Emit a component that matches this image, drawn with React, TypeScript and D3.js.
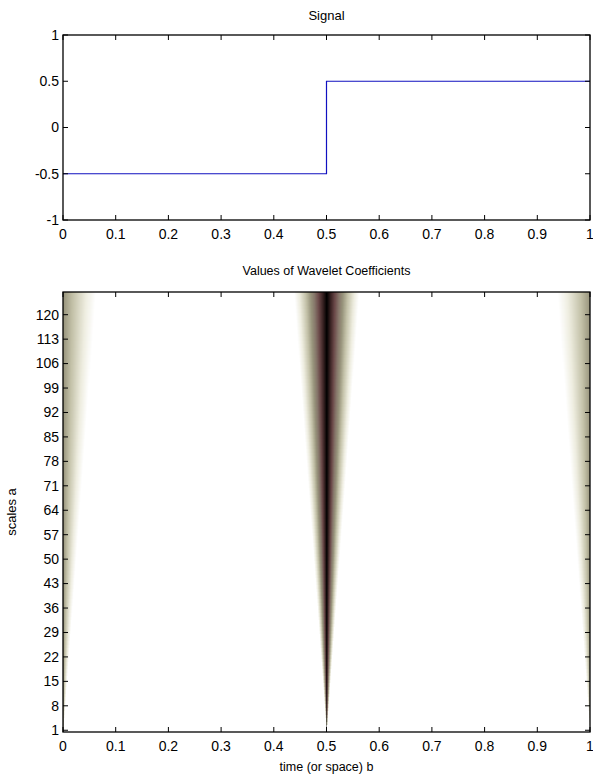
import { useEffect, useMemo, useState } from "react";
import * as d3 from "d3";

// signal: piecewise constant, breaks on [0,1]
const signalBreaks = [0, 0.5, 1];
const signalLevels = [-0.5, 0.5];

// cwt set-up
const nSamples = 1024;
const scaleMin = 1;
const scaleMax = 126;

const signalYTicks = [-1, -0.5, 0, 0.5, 1];
const xTicks = [0, 0.1, 0.2, 0.3, 0.4, 0.5, 0.6, 0.7, 0.8, 0.9, 1];
const scaleTicks = [1, 8, 15, 22, 29, 36, 43, 50, 57, 64, 71, 78, 85, 92, 99, 106, 113, 120];

// colour map, |coef| scaled level by level
const colorDomain = [0, 0.15, 0.35, 0.5, 0.62, 0.75, 0.88, 1];
const colorRange = ["#ffffff", "#eeede0", "#c4c2a9", "#98947c", "#86766a", "#6a4848", "#382222", "#000000"];

const W = 593;
const H = 776;
const left = 63;
const right = 590;
const font = "Arial, 'Liberation Sans', sans-serif";

// tent = antiderivative of a centred haar wavelet
function tent(u: number) {
  if (u < -0.5 || u >= 0.5) return 0;
  return u < 0 ? u + 0.5 : 0.5 - u;
}

function coefRow(a: number) {
  const row = new Float64Array(nSamples);
  for (let k = 0; k < nSamples; k++) {
    let c = 0;
    for (let i = 0; i < signalLevels.length; i++) {
      const t1 = signalBreaks[i] * nSamples;
      const t2 = signalBreaks[i + 1] * nSamples;
      c += signalLevels[i] * (tent((t2 - k) / a) - tent((t1 - k) / a));
    }
    row[k] = Math.abs(c * Math.sqrt(a));
  }
  const mx = d3.max(row) || 1;
  return row.map((v) => v / mx);
}

export default function App() {
  const x = d3.scaleLinear().domain([0, 1]).range([left, right]);
  const ySig = d3.scaleLinear().domain([-1, 1]).range([220, 35]);
  const yScl = d3.scaleLinear().domain([scaleMin - 0.5, scaleMax + 0.5]).range([732, 292]);
  const color = d3.scaleLinear<string>().domain(colorDomain).range(colorRange).interpolate(d3.interpolateRgb).clamp(true);

  const [href, setHref] = useState<string>("");

  const rows = useMemo(() => {
    const m = new Map<number, Float64Array>();
    for (let a = scaleMin; a <= scaleMax; a++) m.set(a, coefRow(a));
    return m;
  }, []);

  useEffect(() => {
    const top = 292;
    const bottom = 732;
    const h = bottom - top;
    const canvas = document.createElement("canvas");
    canvas.width = nSamples;
    canvas.height = h;
    const ctx = canvas.getContext("2d");
    if (!ctx) return;
    const img = ctx.createImageData(nSamples, h);
    for (let py = 0; py < h; py++) {
      let a = Math.round(yScl.invert(top + py + 0.5));
      a = Math.max(scaleMin, Math.min(scaleMax, a));
      const row = rows.get(a)!;
      for (let k = 0; k < nSamples; k++) {
        const c = d3.rgb(color(row[k]));
        const o = (py * nSamples + k) * 4;
        img.data[o] = c.r;
        img.data[o + 1] = c.g;
        img.data[o + 2] = c.b;
        img.data[o + 3] = 255;
      }
    }
    ctx.putImageData(img, 0, 0);
    setHref(canvas.toDataURL());
  }, [rows]);

  const line = d3
    .line<[number, number]>()
    .x((d) => x(d[0]))
    .y((d) => ySig(d[1]))
    .curve(d3.curveStepAfter);
  const sigPts: [number, number][] = signalLevels.map((v, i) => [signalBreaks[i], v]);
  sigPts.push([signalBreaks[signalBreaks.length - 1], signalLevels[signalLevels.length - 1]]);

  const tick = 5;
  const txt = { fontFamily: font, fontSize: 12.5, fill: "#000" };
  const tickTxt = { fontFamily: font, fontSize: 14, fill: "#000" };

  const frame = (y0: number, y1: number, yTicks: number[], ys: (v: number) => number) => (
    <g>
      {xTicks.map((t) => (
        <g key={"x" + t} stroke="#000" strokeWidth={1}>
          <line x1={x(t)} x2={x(t)} y1={y1} y2={y1 - tick} />
          <line x1={x(t)} x2={x(t)} y1={y0} y2={y0 + tick} />
        </g>
      ))}
      {yTicks.map((t) => (
        <g key={"y" + t} stroke="#000" strokeWidth={1}>
          <line x1={left} x2={left + tick} y1={ys(t)} y2={ys(t)} />
          <line x1={right} x2={right - tick} y1={ys(t)} y2={ys(t)} />
        </g>
      ))}
      <rect x={left} y={y0} width={right - left} height={y1 - y0} fill="none" stroke="#000" strokeWidth={1.3} />
      {xTicks.map((t) => (
        <text key={"xl" + t} x={x(t)} y={y1 + 19} textAnchor="middle" {...tickTxt}>
          {t}
        </text>
      ))}
      {yTicks.map((t) => (
        <text key={"yl" + t} x={left - 4} y={ys(t)} dy="0.35em" textAnchor="end" {...tickTxt}>
          {t}
        </text>
      ))}
    </g>
  );

  return (
    <svg width={W} height={H} style={{ position: "absolute", left: 0, top: 0, background: "#fff" }}>
      <rect width={W} height={H} fill="#fff" />
      <text x={(left + right) / 2} y={20} textAnchor="middle" {...txt} fontSize={13}>
        Signal
      </text>
      <path d={line(sigPts) || ""} fill="none" stroke="#1010c0" strokeWidth={1.2} />
      {frame(35, 220, signalYTicks, ySig)}

      <text x={(left + right) / 2} y={275} textAnchor="middle" {...txt}>
        Values of Wavelet Coefficients
      </text>
      {href && (
        <image href={href} x={left} y={292} width={right - left} height={732 - 292} preserveAspectRatio="none" />
      )}
      {frame(292, 732, scaleTicks, yScl)}
      <text x={(left + right) / 2} y={771} textAnchor="middle" {...txt}>
        time (or space) b
      </text>
      <text transform={`translate(16,512) rotate(-90)`} textAnchor="middle" {...txt} fontSize={13}>
        scales a
      </text>
    </svg>
  );
}
